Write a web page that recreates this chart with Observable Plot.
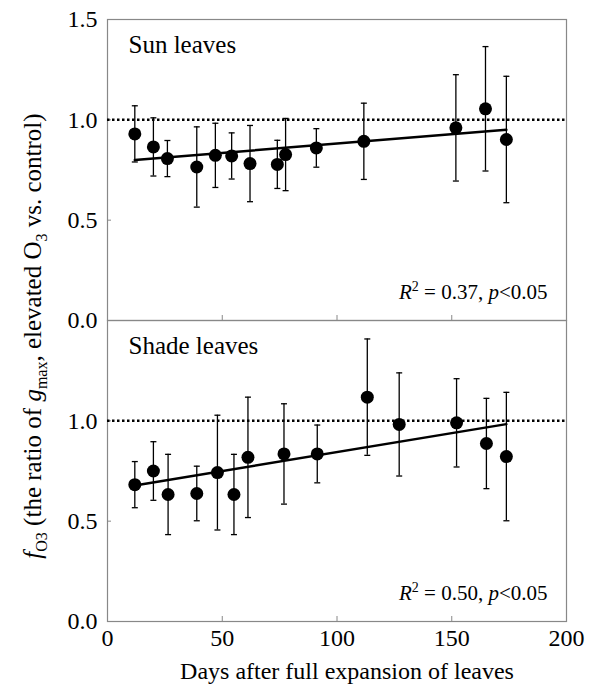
<!DOCTYPE html>
<html><head><meta charset="utf-8">
<script src="https://cdn.jsdelivr.net/npm/d3@7"></script>
<script src="https://cdn.jsdelivr.net/npm/@observablehq/plot@0.6"></script>
<style>body{margin:0;background:#fff} #chart{width:594px;height:684px} svg text{font-family:"Liberation Serif","Times New Roman",Tinos,serif}</style>
</head><body><div id="chart"></div>
<script>
const panels = ["Sun leaves", "Shade leaves"];
const sunDays  = [11.9, 20.0, 26.1, 38.9, 47.0, 54.1, 62.1, 74.0, 77.6, 91.0, 111.7, 151.8, 164.7, 173.8];
const sunRatio = [0.93, 0.865, 0.807, 0.765, 0.823, 0.82, 0.782, 0.778, 0.827, 0.86, 0.893, 0.96, 1.055, 0.902];
const sunErr   = [0.14, 0.145, 0.09, 0.2, 0.16, 0.115, 0.19, 0.12, 0.18, 0.096, 0.19, 0.265, 0.31, 0.315];
const shadeDays  = [11.9, 20.0, 26.4, 38.9, 47.9, 55.1, 61.2, 76.9, 91.4, 113.2, 127.1, 152.1, 165.1, 173.8];
const shadeRatio = [0.682, 0.75, 0.633, 0.638, 0.742, 0.633, 0.818, 0.835, 0.835, 1.118, 0.982, 0.99, 0.887, 0.822];
const shadeErr   = [0.115, 0.146, 0.2, 0.136, 0.286, 0.2, 0.3, 0.25, 0.144, 0.29, 0.257, 0.22, 0.225, 0.32];
const stats = ["R2 = 0.37, p<0.05", "R2 = 0.50, p<0.05"];
const xTicks = [0, 50, 100, 150, 200];
const yTicksTop = [0, 0.5, 1, 1.5];
const yTicksBottom = [0, 0.5, 1];
const refRatio = [1];
const xLabel = "Days after full expansion of leaves";

const rows = [
  ...sunDays.map((d, i) => ({panel: panels[0], day: d, ratio: sunRatio[i], err: sunErr[i]})),
  ...shadeDays.map((d, i) => ({panel: panels[1], day: d, ratio: shadeRatio[i], err: shadeErr[i]}))
];
const yLabelRows = [
  ...yTicksTop.map(v => ({panel: panels[0], v})),
  ...yTicksBottom.map(v => ({panel: panels[1], v}))
];
const panelRows = panels.map((p, i) => ({panel: p, stat: stats[i]}));
const xLabelRows = [{panel: panels[1], label: xLabel}];

const cap = {draw(ctx, size) { const w = Math.sqrt(size / Math.PI); ctx.moveTo(-w, 0); ctx.lineTo(w, 0); }};
const FONT = "'Liberation Serif', 'Times New Roman', Tinos, serif";

const plot = Plot.plot({
  width: 594, height: 684,
  marginLeft: 107, marginRight: 28, marginTop: 18, marginBottom: 63,
  style: {fontFamily: FONT, fontSize: "24px", color: "black", background: "white"},
  x: {domain: [0, 200]},
  y: {domain: [0, 1.5]},
  fy: {domain: panels, padding: 0, axis: null},
  marks: [
    Plot.frame({stroke: "#888", strokeWidth: 1.2}),
    Plot.axisY({ticks: [0.5, 1], tickSize: -4, tickFormat: () => "", label: null, stroke: "#888"}),
    Plot.axisX({ticks: [50, 100, 150], tickSize: -5, tickFormat: () => "", label: null, facetAnchor: null, stroke: "#888"}),
    Plot.axisX({ticks: xTicks, tickSize: 0, tickPadding: 7, fontSize: 24, label: null}),
    Plot.text(xLabelRows, {fy: "panel", text: "label", frameAnchor: "bottom", dx: 10, dy: 57, lineAnchor: "bottom", fontSize: 24}),
    Plot.text(yLabelRows, {fy: "panel", y: "v", text: d => d.v.toFixed(1), frameAnchor: "left", dx: -10, textAnchor: "end", fontSize: 24}),
    Plot.ruleY(refRatio, {strokeDasharray: "2.5,2.5", strokeWidth: 2.5}),
    Plot.ruleX(rows, {x: "day", y1: d => d.ratio - d.err, y2: d => d.ratio + d.err, fy: "panel", strokeWidth: 1.3}),
    Plot.dot(rows, {x: "day", y: d => d.ratio - d.err, fy: "panel", symbol: cap, r: 3, stroke: "black", fill: "none", strokeWidth: 1.3}),
    Plot.dot(rows, {x: "day", y: d => d.ratio + d.err, fy: "panel", symbol: cap, r: 3, stroke: "black", fill: "none", strokeWidth: 1.3}),
    Plot.linearRegressionY(rows, {x: "day", y: "ratio", fy: "panel", ci: 0, stroke: "black", strokeWidth: 2.5}),
    Plot.dot(rows, {x: "day", y: "ratio", fy: "panel", r: 6.5, fill: "black", stroke: "none"}),
    Plot.text(panelRows, {fy: "panel", text: "panel", frameAnchor: "top-left", dx: 21, dy: 16, lineAnchor: "top", textAnchor: "start", fontSize: 25}),
    Plot.text(panelRows, {fy: "panel", text: "stat", frameAnchor: "bottom-right", dx: -19, dy: -22, lineAnchor: "bottom", textAnchor: "end", fontSize: 21})
  ]
});
document.getElementById("chart").appendChild(plot);

const svg = d3.select(plot);
svg.selectAll("text").filter(function() { return /^R2 = /.test(this.textContent); }).each(function() {
  const s = this.textContent;
  const m = s.match(/^R2 = ([0-9.]+), p(.*)$/);
  const t = d3.select(this);
  t.text(null);
  t.append("tspan").attr("font-style", "italic").text("R");
  t.append("tspan").attr("font-size", 14).attr("dy", -8).text("2");
  t.append("tspan").attr("dy", 8).text(" = " + m[1] + ", ");
  t.append("tspan").attr("font-style", "italic").text("p");
  t.append("tspan").text(m[2]);
});
const yt = svg.append("text")
  .attr("transform", "translate(41,336) rotate(-90)")
  .attr("text-anchor", "middle")
  .style("font-family", FONT)
  .attr("font-size", 25)
  .attr("fill", "black");
yt.append("tspan").attr("font-style", "italic").text("f");
yt.append("tspan").attr("font-size", 16).attr("dy", 6).text("O3");
yt.append("tspan").attr("dy", -6).text(" (the ratio of ");
yt.append("tspan").attr("font-style", "italic").text("g");
yt.append("tspan").attr("font-size", 16).attr("dy", 6).text("max");
yt.append("tspan").attr("dy", -6).text(", elevated O");
yt.append("tspan").attr("font-size", 16).attr("dy", 6).text("3");
yt.append("tspan").attr("dy", -6).text(" vs. control)");
</script>
</body></html>
